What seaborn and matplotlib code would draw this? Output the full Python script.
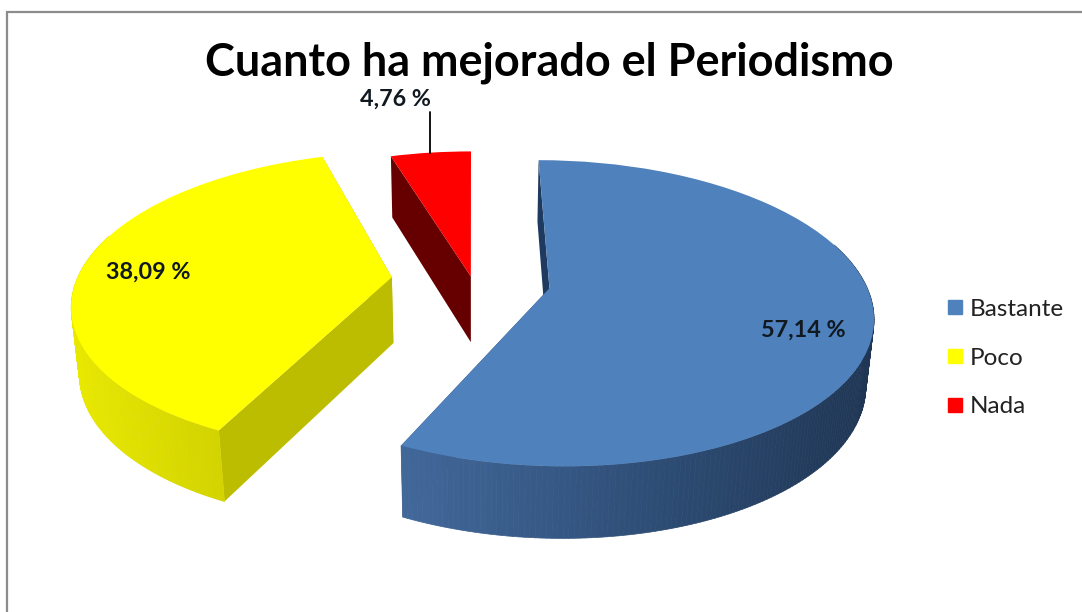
import numpy as np
import matplotlib
matplotlib.use("Agg")
import matplotlib.pyplot as plt
from matplotlib.collections import PolyCollection
from matplotlib.transforms import Transform
from matplotlib.lines import Line2D
import seaborn as sns

title = "Cuanto ha mejorado el Periodismo"
categories = ["Bastante", "Poco", "Nada"]
values = [57.14, 38.09, 4.76]
value_labels = ["57,14 %", "38,09 %", "4,76 %"]
explode = [0.25, 0.256, 0.025]
top_colors = ["#4f81bd", "#ffff00", "#ff0000"]
edge_colors = ["#1f3a5f", "#bcbc00", "#660000"]
rim_stops = [["#42689a", "#2f4f78", "#1f3654"], ["#e8e800", "#c4c400"], ["#660000", "#660000"]]

# 3D view of the pie, in pixels
X0, Y0, RX, RY, P, Q, DEPTH, PD = 472.0, 280.0, 315.0, 146.3, 0.162, 0.02, 66.0, 0.08
FONT = ["Lato", "DejaVu Sans"]


def project(x, y, z=0.0):
    x, y = np.asarray(x), np.asarray(y)
    w = 1 + P * y + Q * z
    return X0 + RX * x / w, Y0 - RY * y / (1 + P * y) + DEPTH * z / (1 + PD * y)


class View(Transform):
    input_dims = output_dims = 2
    is_affine = False

    def transform_non_affine(self, values):
        px, py = project(values[:, 0], values[:, 1])
        return np.column_stack([px, py])


sns.set_theme(style="white")
plt.rcParams["font.family"] = FONT
fig = plt.figure(figsize=(10.82, 6.12), dpi=100)
ax = fig.add_axes([0, 0, 1, 1])

wedges, _ = ax.pie(values, colors=sns.color_palette(top_colors), startangle=90, counterclock=False,
                   explode=explode, radius=1, wedgeprops={"linewidth": 0, "zorder": 5})
ax.set_aspect("auto")
ax.set_xlim(0, 1082)
ax.set_ylim(612, 0)
ax.axis("off")

view = View() + ax.transData
for i, wedge in enumerate(wedges):
    cx, cy = wedge.center
    t = np.radians(np.linspace(wedge.theta1, wedge.theta2, 240))
    ax_, ay_ = cx + wedge.r * np.cos(t), cy + wedge.r * np.sin(t)
    tx, ty = project(ax_, ay_)
    bx, by = project(ax_, ay_, 1.0)
    # outer rim, shaded from left to right; only the part that faces the viewer
    front = [k for k in range(len(t) - 1) if ay_[k] < cy + 0.3]
    quads = [[(tx[k], ty[k]), (tx[k + 1], ty[k + 1]), (bx[k + 1], by[k + 1]), (bx[k], by[k])]
             for k in front]
    lo, hi = tx.min(), tx.max()
    ramp = sns.blend_palette(rim_stops[i], as_cmap=True)
    cols = [ramp(float(np.clip((tx[k] - lo) / (hi - lo), 0, 1))) for k in front]
    if quads:
        ax.add_collection(PolyCollection(quads, facecolors=cols, edgecolors=cols, linewidths=0.5, zorder=3))
    # flat cut faces
    for a, b in ((ax_[0], ay_[0]), (ax_[-1], ay_[-1])):
        xs = np.array([cx, a, a, cx])
        ys = np.array([cy, b, b, cy])
        zs = np.array([0.0, 0.0, 1.0, 1.0])
        fx, fy = zip(*[project(xs[k], ys[k], zs[k]) for k in range(4)])
        ax.fill(fx, fy, color=edge_colors[i], lw=0, zorder=2.5)
    wedge.set_transform(view)

# frame
ax.plot([7, 7, 1082], [612, 12, 12], color="#8c8c8c", lw=1.6, solid_joinstyle="miter", zorder=1)

ax.text(549, 63, title, ha="center", va="center", fontsize=32.4, fontweight="bold", color="black", zorder=8)

label_pos = [(803, 330), (148, 272), (395, 99)]
for (lx, ly), s in zip(label_pos, value_labels):
    ax.text(lx, ly, s, ha="center", va="center", fontsize=16.8, fontweight="bold", color="#101820", zorder=8)
ax.plot([430, 430], [112, 153], color="black", lw=1.3, zorder=8)

handles = [Line2D([], [], ls="", marker="s", ms=10, mfc=c, mec=c) for c in top_colors]
ax.legend(handles, categories, loc="center left", bbox_to_anchor=(0.874, 0.415), frameon=False,
          fontsize=17.5, labelspacing=1.14, handlelength=0.8, handletextpad=0.18,
          borderaxespad=0, borderpad=0, labelcolor="#222222")

fig.savefig("out.png", dpi=100, facecolor="white")
